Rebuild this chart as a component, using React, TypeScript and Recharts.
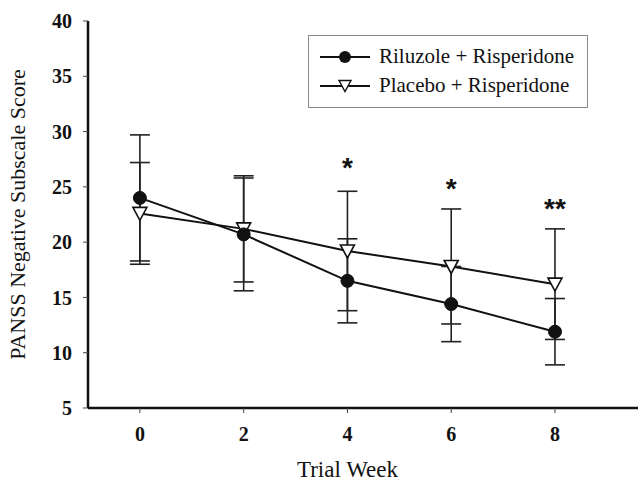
import React from "react";
import { ComposedChart, Line, Scatter, XAxis, YAxis, ErrorBar, Legend } from "recharts";

const weeks = [0, 2, 4, 6, 8];
const riluzoleMean = [24.0, 20.7, 16.5, 14.4, 11.9];
const riluzoleSd = [5.7, 5.1, 3.8, 3.4, 3.0];
const placeboMean = [22.6, 21.2, 19.2, 17.8, 16.2];
const placeboSd = [4.6, 4.8, 5.4, 5.2, 5.0];

const sigWeeks = [4, 6, 8];
const sigLabels = ["*", "*", "**"];
const sigY = [27.3, 25.4, 23.6];

const yTicks = [5, 10, 15, 20, 25, 30, 35, 40];
const xTicks = [0, 2, 4, 6, 8];
const xDomain: [number, number] = [-1, 9.6];

const data = weeks.map((w, i) => ({
  week: w,
  riluzole: riluzoleMean[i],
  riluzoleErr: riluzoleSd[i],
  placebo: placeboMean[i],
  placeboErr: placeboSd[i],
}));

const sigData = sigWeeks.map((w, i) => ({ week: w, y: sigY[i], mark: sigLabels[i] }));

const serif = "Times New Roman, Liberation Serif, Tinos, DejaVu Serif, serif";

function CircleDot(props: any) {
  const { cx, cy } = props;
  if (cx == null || cy == null) return null;
  return <circle cx={cx} cy={cy} r={6.5} fill="#111" stroke="#111" strokeWidth={1} />;
}

function TriangleDot(props: any) {
  const { cx, cy } = props;
  if (cx == null || cy == null) return null;
  return (
    <polygon
      points={`${cx - 7},${cy - 6} ${cx + 7},${cy - 6} ${cx},${cy + 7}`}
      fill="#fff"
      stroke="#111"
      strokeWidth={1.6}
    />
  );
}

function StarMark(props: any) {
  const { cx, cy, payload } = props;
  if (cx == null || cy == null) return null;
  return (
    <text
      x={cx}
      y={cy + 16}
      textAnchor="middle"
      fontFamily="Liberation Sans, Arial, sans-serif"
      fontWeight="bold"
      fontSize={28}
      fill="#111"
    >
      {payload.mark}
    </text>
  );
}

function YLabel(props: any) {
  const { viewBox } = props;
  const cy = viewBox.y + viewBox.height / 2;
  return (
    <text
      x={17}
      y={cy}
      transform={`rotate(-90, 17, ${cy})`}
      textAnchor="middle"
      dominantBaseline="central"
      fontFamily={serif}
      fontSize={22}
      fill="#111"
    >
      PANSS Negative Subscale Score
    </text>
  );
}

function XLabel(props: any) {
  const { viewBox } = props;
  // the reference centres this title under week 4, not under the whole axis
  const x = viewBox.x + ((4 - xDomain[0]) / (xDomain[1] - xDomain[0])) * viewBox.width;
  return (
    <text x={x} y={477} textAnchor="middle" fontFamily={serif} fontSize={23} fill="#111">
      Trial Week
    </text>
  );
}

function LegendBox() {
  const row = (icon: React.ReactNode, label: string) => (
    <div style={{ display: "flex", alignItems: "center", height: 29 }}>
      <svg width={52} height={16} style={{ marginRight: 8 }}>
        <line x1={1} y1={8} x2={51} y2={8} stroke="#111" strokeWidth={2} />
        {icon}
      </svg>
      <span style={{ fontFamily: serif, fontSize: 21, color: "#111" }}>{label}</span>
    </div>
  );
  return (
    <div
      style={{
        border: "1px solid #888",
        width: 268,
        height: 59,
        padding: "6px 0 6px 10px",
        background: "#fff",
      }}
    >
      {row(<circle cx={26} cy={8} r={6} fill="#111" />, "Riluzole + Risperidone")}
      {row(
        <polygon points="20,2.5 32,2.5 26,13.5" fill="#fff" stroke="#111" strokeWidth={1.4} />,
        "Placebo + Risperidone"
      )}
    </div>
  );
}

export default function App() {
  return (
    <div style={{ position: "absolute", left: 0, top: 0, width: 638, height: 484, background: "#fff", fontFamily: serif }}>
      <ComposedChart width={638} height={484} data={data} margin={{ top: 21, right: 0, bottom: 0, left: 0 }}>
        <XAxis
          dataKey="week"
          type="number"
          domain={xDomain}
          ticks={xTicks}
          height={76}
          axisLine={{ stroke: "#111", strokeWidth: 2.5 }}
          tickLine={{ stroke: "#444", strokeWidth: 1 }}
          tickSize={5}
          tickMargin={14}
          tick={{ fill: "#111", fontSize: 20, fontWeight: "bold", fontFamily: serif }}
          label={<XLabel />}
        />
        <YAxis
          type="number"
          domain={[5, 40]}
          ticks={yTicks}
          width={88}
          axisLine={{ stroke: "#111", strokeWidth: 2.5 }}
          tickLine={{ stroke: "#444", strokeWidth: 1 }}
          tickSize={5}
          tickMargin={11}
          tick={{ fill: "#111", fontSize: 20, fontWeight: "bold", fontFamily: serif }}
          label={<YLabel />}
        />
        <Legend
          layout="vertical"
          align="center"
          verticalAlign="middle"
          content={() => <LegendBox />}
          wrapperStyle={{ left: 308, top: 35, width: 280 }}
        />
        <Line
          dataKey="placebo"
          stroke="#111"
          strokeWidth={2}
          type="linear"
          dot={<TriangleDot />}
          isAnimationActive={false}
        >
          <ErrorBar dataKey="placeboErr" direction="y" width={10} stroke="#222" strokeWidth={1.6} />
        </Line>
        <Line
          dataKey="riluzole"
          stroke="#111"
          strokeWidth={2}
          type="linear"
          dot={<CircleDot />}
          isAnimationActive={false}
        >
          <ErrorBar dataKey="riluzoleErr" direction="y" width={10} stroke="#222" strokeWidth={1.6} />
        </Line>
        <Scatter data={sigData} dataKey="y" shape={<StarMark />} isAnimationActive={false} />
      </ComposedChart>
    </div>
  );
}
